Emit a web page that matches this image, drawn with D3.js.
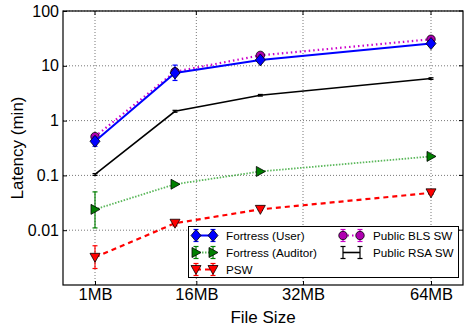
<!DOCTYPE html>
<html>
<head>
<meta charset="utf-8">
<script src="https://cdn.jsdelivr.net/npm/d3@7"></script>
<style>
  body { margin: 0; background: #fff; }
  svg { display: block; font-family: "Liberation Sans", Arial, sans-serif; }
</style>
</head>
<body>
<svg id="chart" width="464" height="332"></svg>
<script>
// file sizes (MB) where the points sit, and where matlab put the tick labels
var sizes = [1, 16, 32, 64];
var tickVals = [1, 20, 40, 64];
var tickLabels = ['1MB', '16MB', '32MB', '64MB'];
var yTicks = [0.01, 0.1, 1, 10, 100];

var userMean = [0.42, 7.4, 12.8, 25.5];
var userLo = [0.34, 5.4, 12.0, 24.0];
var userHi = [0.5, 10.3, 13.6, 27.0];

var auditorMean = [0.024, 0.069, 0.118, 0.222];
var auditorLo = [0.011, 0.066, 0.113, 0.214];
var auditorHi = [0.05, 0.072, 0.123, 0.23];

var pswMean = [0.0032, 0.0134, 0.024, 0.048];
var pswLo = [0.002, 0.012, 0.023, 0.045];
var pswHi = [0.0052, 0.015, 0.025, 0.051];

var blsMean = [0.51, 7.8, 15.5, 30.5];
var blsLo = [0.47, 7.2, 14.8, 29.0];
var blsHi = [0.55, 8.4, 16.2, 32.0];

var rsaMean = [0.104, 1.48, 2.9, 5.85];
var rsaLo = [0.1, 1.42, 2.8, 5.65];
var rsaHi = [0.108, 1.54, 3.0, 6.05];

var svg = d3.select('#chart');
var L = 63, R = 463, T = 11, B = 285;

var x = d3.scaleLinear().domain([-5, 70]).range([L, R]);
var y = d3.scaleLog().domain([0.001, 100]).range([B, T]);

// grid
var grid = svg.append('g').attr('stroke', '#555').attr('stroke-width', 0.8)
    .attr('stroke-dasharray', '1,2');
tickVals.forEach(function (v) {
    grid.append('line').attr('x1', x(v)).attr('x2', x(v)).attr('y1', T).attr('y2', B);
});
yTicks.forEach(function (v) {
    grid.append('line').attr('x1', L).attr('x2', R).attr('y1', y(v)).attr('y2', y(v));
});

// axes
var xAxis = svg.append('g').attr('transform', 'translate(0,' + B + ')')
    .call(d3.axisBottom(x).tickValues(tickVals)
        .tickFormat(function (d, i) { return tickLabels[i]; })
        .tickSizeInner(-4).tickSizeOuter(0).tickPadding(3));
var yAxis = svg.append('g').attr('transform', 'translate(' + L + ',0)')
    .call(d3.axisLeft(y).tickValues(yTicks)
        .tickFormat(function (d) { return d >= 1 ? d3.format('d')(d) : String(d); })
        .tickSizeInner(-4).tickSizeOuter(0).tickPadding(4));
[xAxis, yAxis].forEach(function (a, k) {
    a.selectAll('text').attr('font-size', k === 0 ? 16.5 : 16).attr('fill', '#000')
        .attr('font-family', '"Liberation Sans", Arial, sans-serif');
    a.select('.domain').remove();
    a.selectAll('.tick line').attr('stroke', '#000');
});

// top/right ticks
tickVals.forEach(function (v) {
    svg.append('line').attr('x1', x(v)).attr('x2', x(v)).attr('y1', T).attr('y2', T + 4)
        .attr('stroke', '#000');
});
yTicks.forEach(function (v) {
    svg.append('line').attr('x1', R - 4).attr('x2', R).attr('y1', y(v)).attr('y2', y(v))
        .attr('stroke', '#000');
});

svg.append('rect').attr('x', L).attr('y', T).attr('width', R - L).attr('height', B - T)
    .attr('fill', 'none').attr('stroke', '#000').attr('stroke-width', 1.2);

var series = [
    { name: 'PSW', mean: pswMean, lo: pswLo, hi: pswHi, line: '#ff0000', bar: '#ff0000',
      fill: '#ff0000', dash: '5,4', width: 2.2, marker: 'down' },
    { name: 'Fortress (Auditor)', mean: auditorMean, lo: auditorLo, hi: auditorHi,
      line: '#5cb85c', bar: '#008000', fill: '#008000', dash: '1.5,1.5', width: 1.8, marker: 'right' },
    { name: 'Public RSA SW', mean: rsaMean, lo: rsaLo, hi: rsaHi, line: '#000', bar: '#000',
      fill: null, dash: null, width: 1.6, marker: null },
    { name: 'Public BLS SW', mean: blsMean, lo: blsLo, hi: blsHi, line: '#cc00cc', bar: '#cc00cc',
      fill: '#b000b0', dash: '1.5,3', width: 2.2, marker: 'circle' },
    { name: 'Fortress (User)', mean: userMean, lo: userLo, hi: userHi, line: '#0000ff', bar: '#0000ff',
      fill: '#0000ff', dash: null, width: 2, marker: 'diamond' }
];

function markerPath(type) {
    if (type === 'down') return 'M-5,-4L5,-4L0,5Z';
    if (type === 'right') return 'M-4,-5L5,0L-4,5Z';
    if (type === 'diamond') return 'M0,-6L5,0L0,6L-5,0Z';
    if (type === 'circle') return d3.symbol(d3.symbolCircle, 56)();
    return null;
}

function drawMarker(g, s, cx, cy) {
    var p = markerPath(s.marker);
    if (!p) return;
    g.append('path').attr('d', p).attr('transform', 'translate(' + cx + ',' + cy + ')')
        .attr('fill', s.fill).attr('stroke', '#000').attr('stroke-width', 0.8);
}

function drawBar(g, s, cx, y1, y2) {
    var b = g.append('g').attr('stroke', s.bar).attr('stroke-width', 1.2);
    b.append('line').attr('x1', cx).attr('x2', cx).attr('y1', y1).attr('y2', y2);
    b.append('line').attr('x1', cx - 2.5).attr('x2', cx + 2.5).attr('y1', y1).attr('y2', y1);
    b.append('line').attr('x1', cx - 2.5).attr('x2', cx + 2.5).attr('y1', y2).attr('y2', y2);
}

var line = d3.line().x(function (d) { return x(d[0]); }).y(function (d) { return y(d[1]); });

series.forEach(function (s) {
    var g = svg.append('g');
    var pts = sizes.map(function (v, i) { return [v, s.mean[i]]; });
    g.append('path').attr('d', line(pts)).attr('fill', 'none')
        .attr('stroke', s.line).attr('stroke-width', s.width)
        .attr('stroke-dasharray', s.dash);
    sizes.forEach(function (v, i) {
        drawBar(g, s, x(v), y(s.lo[i]), y(s.hi[i]));
    });
    sizes.forEach(function (v, i) {
        drawMarker(g, s, x(v), y(s.mean[i]));
    });
});

// legend
var lg = svg.append('g');
lg.append('rect').attr('x', 188.5).attr('y', 226.5).attr('width', 270).attr('height', 51)
    .attr('fill', '#fff').attr('stroke', '#000').attr('stroke-width', 1);
var legendOrder = ['Fortress (User)', 'Fortress (Auditor)', 'PSW', 'Public BLS SW', 'Public RSA SW'];
var legendPos = [[196, 235.5], [196, 252.5], [196, 269.5], [343, 235.5], [343, 252.5]];
legendOrder.forEach(function (name, i) {
    var s = series.filter(function (d) { return d.name === name; })[0];
    var px = legendPos[i][0], py = legendPos[i][1];
    lg.append('line').attr('x1', px).attr('x2', px + 17).attr('y1', py).attr('y2', py)
        .attr('stroke', s.line).attr('stroke-width', s.width).attr('stroke-dasharray', s.dash);
    [px, px + 17].forEach(function (cx) {
        drawBar(lg, s, cx, py - 6, py + 6);
        drawMarker(lg, s, cx, py);
    });
    lg.append('text').attr('x', px + 30).attr('y', py + 4).attr('font-size', 11.7)
        .text(name);
});

svg.append('text').attr('x', (L + R) / 2).attr('y', 323).attr('text-anchor', 'middle')
    .attr('font-size', 17).text('File Size');
svg.append('text').attr('transform', 'translate(23,' + (T + B) / 2 + ') rotate(-90)')
    .attr('text-anchor', 'middle').attr('font-size', 17).text('Latency (min)');
</script>
</body>
</html>
